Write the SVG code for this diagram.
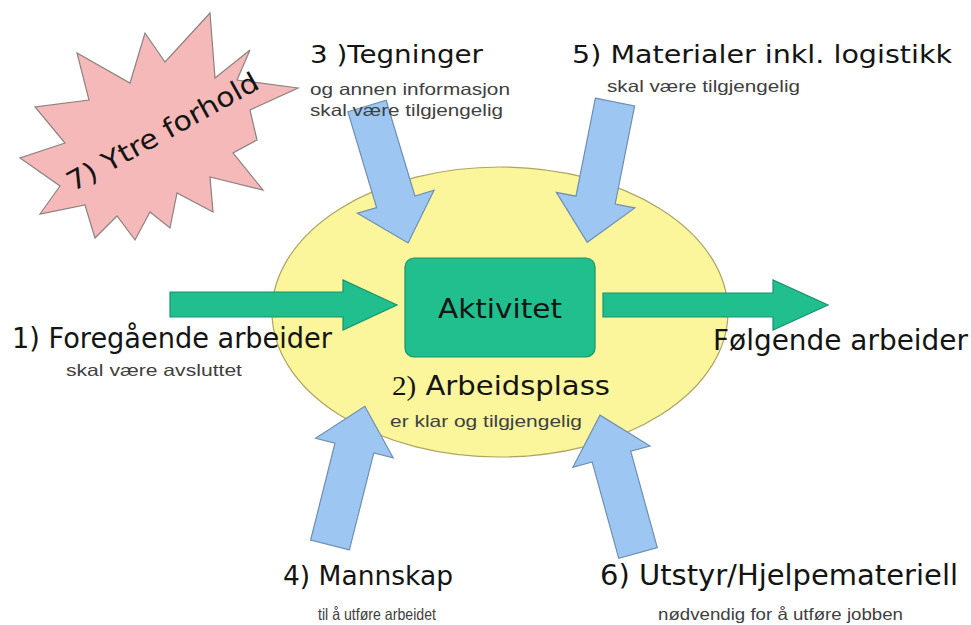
<svg xmlns="http://www.w3.org/2000/svg" width="971" height="625" viewBox="0 0 971 625">
  <style>
    .big { font-family: "DejaVu Sans", "Liberation Sans", sans-serif; fill: #141414; }
    .sub { font-family: "Liberation Sans", Arial, sans-serif; fill: #404040; font-size: 16.5px; }
    .blue { fill: #9dc7f2; stroke: #6f8fb2; stroke-width: 1.2; }
    .green { fill: #20bf8d; stroke: #17946c; stroke-width: 1.2; }
  </style>
  <defs>
    <!-- block arrow pointing along +y, tail centre at origin -->
    <path id="blockArrow" d="M-20,0 L20,0 L20,100 L40,100 L0,143 L-40,100 L-20,100 Z"/>
  </defs>

  <rect width="971" height="625" fill="#ffffff"/>

  <!-- workplace area -->
  <g id="arbeidsplass">
    <ellipse cx="500" cy="312" rx="228" ry="145" fill="#fbf59c" stroke="#aea565" stroke-width="1.2"/>
  </g>

  <!-- external conditions -->
  <g id="ytre-forhold">
    <polygon points="210,13 215,78 250,50 237,80 298,88 250,110 257,140 233,153 263,190 210,177 213,212 177,193 170,228 150,212 135,240 117,216 95,238 85,205 40,214 60,186 20,158 65,143 35,107 89,100 77,53 130,83 145,33 165,62" fill="#f6b9b9" stroke="#8c8282" stroke-width="1.2"/>
    <text class="big" font-size="27" text-anchor="middle" textLength="215" lengthAdjust="spacingAndGlyphs" transform="translate(167,140) rotate(-29)">7) Ytre forhold</text>
  </g>

  <!-- connectors -->
  <g id="connectors">
    <use href="#blockArrow" class="blue" transform="translate(367,106) rotate(-16.7)"/>
    <use href="#blockArrow" class="blue" transform="translate(615,102) rotate(11.2)"/>
    <use href="#blockArrow" class="blue" transform="translate(330,545) rotate(194.1)"/>
    <use href="#blockArrow" class="blue" transform="translate(638,553) rotate(164.6)"/>
    <path class="green" d="M170,292 L343,292 L343,280 L397,305 L343,330 L343,317 L170,317 Z"/>
    <path class="green" d="M603,293 L773,293 L773,280 L828,305 L773,330 L773,317 L603,317 Z"/>
  </g>

  <!-- activity -->
  <g id="aktivitet">
    <rect x="405" y="258" width="190" height="99" rx="9" class="green"/>
    <text class="big" x="500" y="318" font-size="26" text-anchor="middle" textLength="124" lengthAdjust="spacingAndGlyphs">Aktivitet</text>
  </g>

  <g id="arbeidsplass-label">
    <text class="big" x="392" y="395" font-size="27" textLength="218" lengthAdjust="spacingAndGlyphs"><tspan font-family="Liberation Serif, serif">2)</tspan> Arbeidsplass</text>
    <text class="sub" x="390" y="427" textLength="192" lengthAdjust="spacingAndGlyphs">er klar og tilgjengelig</text>
  </g>

  <g id="foregaende">
    <text class="big" x="12" y="348" font-size="28" textLength="320" lengthAdjust="spacingAndGlyphs">1) Foregående arbeider</text>
    <text class="sub" x="66" y="376" textLength="176" lengthAdjust="spacingAndGlyphs">skal være avsluttet</text>
  </g>

  <g id="folgende">
    <text class="big" x="713" y="350" font-size="28" textLength="255" lengthAdjust="spacingAndGlyphs">Følgende arbeider</text>
  </g>

  <g id="tegninger">
    <text class="big" x="310" y="63" font-size="24" textLength="173" lengthAdjust="spacingAndGlyphs">3 )Tegninger</text>
    <text class="sub" x="310" y="95" textLength="200" lengthAdjust="spacingAndGlyphs">og annen informasjon</text>
    <text class="sub" x="310" y="116" textLength="193" lengthAdjust="spacingAndGlyphs">skal være tilgjengelig</text>
  </g>

  <g id="materialer">
    <text class="big" x="572" y="63" font-size="24" textLength="380" lengthAdjust="spacingAndGlyphs">5) Materialer inkl. logistikk</text>
    <text class="sub" x="607" y="92" textLength="193" lengthAdjust="spacingAndGlyphs">skal være tilgjengelig</text>
  </g>

  <g id="mannskap">
    <text class="big" x="283" y="585" font-size="27" textLength="170" lengthAdjust="spacingAndGlyphs">4) Mannskap</text>
    <text class="sub" x="318" y="620" textLength="118" lengthAdjust="spacingAndGlyphs">til å utføre arbeidet</text>
  </g>

  <g id="utstyr">
    <text class="big" x="600" y="585" font-size="28" textLength="358" lengthAdjust="spacingAndGlyphs">6) Utstyr/Hjelpemateriell</text>
    <text class="sub" x="658" y="620" textLength="245" lengthAdjust="spacingAndGlyphs">nødvendig for å utføre jobben</text>
  </g>
</svg>
